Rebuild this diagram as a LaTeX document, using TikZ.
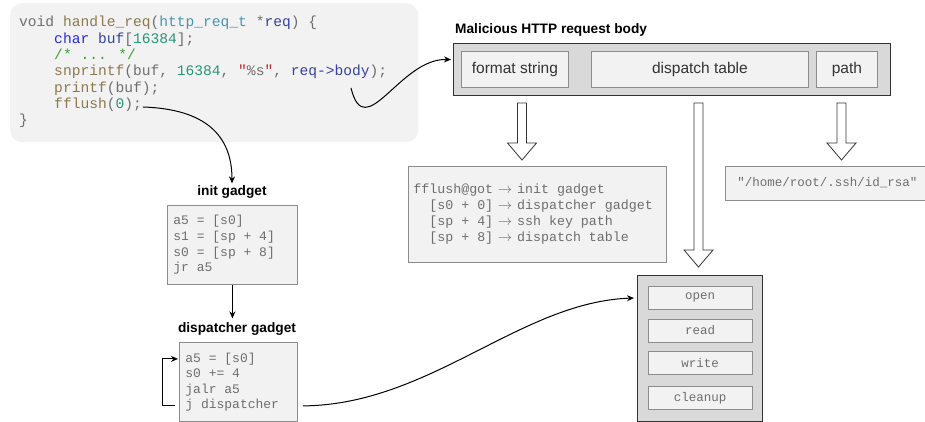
\documentclass[tikz,border=0pt]{standalone}
\usepackage{fontspec}
\setmainfont{Liberation Sans}
\newfontfamily\codefont{Liberation Mono}
\usetikzlibrary{calc,arrows.meta}

\definecolor{paper}{RGB}{242,242,242}
\definecolor{midgray}{RGB}{217,217,217}
\definecolor{edgegray}{RGB}{140,140,140}
\definecolor{darkedge}{RGB}{51,51,51}
\definecolor{codegray}{RGB}{110,110,110}
\definecolor{fnbrown}{RGB}{140,120,80}
\definecolor{typeteal}{RGB}{70,150,175}
\definecolor{varblue}{RGB}{55,65,160}
\definecolor{kwblue}{RGB}{40,40,230}
\definecolor{numgreen}{RGB}{40,150,120}
\definecolor{cmtgreen}{RGB}{60,160,60}
\definecolor{strred}{RGB}{190,40,40}

\newcommand{\monosize}[2]{\codefont\fontsize{#1}{#2}\selectfont\spaceskip=0.6em\relax}
\newcommand{\mapsarrow}{\makebox[0.6em][c]{$\rightarrow$}}
\newcommand{\hollowdown}[2]{%
    \path[hollow] let \p1=(#1), \p2=(#2) in
        (\x1-4.5pt,\y1) -- (\x1+4.5pt,\y1) -- (\x1+4.5pt,\y2+17pt) -- (\x1+14.5pt,\y2+17pt)
        -- (\x1,\y2) -- (\x1-14.5pt,\y2+17pt) -- (\x1-4.5pt,\y2+17pt) -- cycle;}

\begin{document}
\begin{tikzpicture}[x=1pt,y=-1pt]
                        \tikzstyle{codeline}=[anchor=base west, inner sep=0pt, text=codegray, font=\monosize{14.6}{16}]
                        \tikzstyle{heading}=[inner sep=0pt, font=\bfseries\fontsize{13.7}{16}\selectfont]
                        \tikzstyle{outerbox}=[draw=darkedge, fill=midgray, line width=1.2pt, anchor=north west]
                        \tikzstyle{field}=[draw=edgegray, fill=paper, line width=0.8pt, anchor=north west, minimum height=36pt, text=darkedge, font=\fontsize{15.5}{18}\selectfont]
                        \tikzstyle{listing}=[draw=edgegray, fill=paper, line width=0.8pt, align=flush left, text=codegray]
                        \tikzstyle{slot}=[draw=edgegray, fill=paper, line width=0.8pt, minimum width=104pt, minimum height=23pt, text=codegray, font=\monosize{12.5}{14}]
                        \tikzstyle{arr}=[line width=1pt, -{Stealth[length=7pt,width=6pt]}]
                        \tikzstyle{hollow}=[draw=darkedge, fill=white, line width=0.8pt]
                        \useasboundingbox (0,0) rectangle (925,422);

                        \node[fill=paper, rounded corners=12pt, minimum width=408pt, minimum height=139pt, anchor=north west] (codebox) at (10,3) {};
                        \node[codeline] (c1) at (19,27) {void \textcolor{fnbrown}{handle\_req}(\textcolor{typeteal}{http\_req\_t} *\textcolor{varblue}{req}) \{};
                        \node[codeline] (c2) at (19,43.3) {\phantom{xxxx}\textcolor{kwblue}{char} \textcolor{varblue}{buf}[\textcolor{numgreen}{16384}];};
                        \node[codeline] (c3) at (19,59.7) {\phantom{xxxx}\textcolor{cmtgreen}{/* ... */}};
                        \node[codeline] (c4) at (19,76) {\phantom{xxxx}\textcolor{fnbrown}{snprintf}(buf, \textcolor{numgreen}{16384}, \textcolor{strred}{"}\%s\textcolor{strred}{"}, \textcolor{varblue}{req->body});};
                        \node[codeline] (c5) at (19,92.3) {\phantom{xxxx}\textcolor{fnbrown}{printf}(buf);};
                        \node[codeline] (c6) at (19,108.7) {\phantom{xxxx}\textcolor{fnbrown}{fflush}(\textcolor{numgreen}{0});};
                        \node[codeline] (c7) at (19,125) {\}};
                        \coordinate (bodyref) at (351,88);
                        \coordinate (flushref) at (143,107);

                        \node[heading, anchor=base west] (bodytitle) at (455,34) {Malicious HTTP request body};
                        \node[outerbox, minimum width=437pt, minimum height=52pt] (bodybox) at (453,43) {};
                        \node[field, minimum width=107pt] (fmt) at (461,51) {format string};
                        \node[field, minimum width=217pt] (disp) at (591,51) {dispatch table};
                        \node[field, minimum width=61pt] (path) at (816,51) {path};

                        \node[listing, anchor=north west, minimum width=258pt, minimum height=96pt, text width=248pt, inner xsep=5pt,
                            font=\monosize{13.3}{16}] (tbl) at (408,166)
                            {fflush@got \mapsarrow{} init gadget\\
                             \phantom{xx}[s0 + 0] \mapsarrow{} dispatcher gadget\\
                             \phantom{xx}[sp + 4] \mapsarrow{} ssh key path\\
                             \phantom{xx}[sp + 8] \mapsarrow{} dispatch table};
                        \node[listing, anchor=west, minimum height=34pt, minimum width=214pt, text width=190pt, inner xsep=12pt,
                            font=\monosize{12.5}{14}] (keypath) at (725,183) {"/home/root/.ssh/id\_rsa"};

                        \node[outerbox, minimum width=125pt, minimum height=146pt] (calls) at (637,275) {};
                        \node[slot] (copen) at (700,297.5) {open};
                        \node[slot] (cread) at (700,330.5) {read};
                        \node[slot] (cwrite) at (700,363) {write};
                        \node[slot] (cclean) at (700,398) {cleanup};

                        \node[heading] (inittitle) at (232,192) {init gadget};
                        \node[listing, anchor=north west, minimum width=130pt, minimum height=79pt, text width=118pt, inner xsep=6pt,
                            font=\monosize{13}{15.7}] (initbox) at (167,205)
                            {a5 = [s0]\\ s1 = [sp + 4]\\ s0 = [sp + 8]\\ jr a5};
                        \node[heading] (disptitle) at (237,329) {dispatcher gadget};
                        \node[listing, anchor=north west, minimum width=118pt, minimum height=79pt, text width=106pt, inner xsep=6pt,
                            font=\monosize{13}{15.5}] (dispbox) at (179,342)
                            {a5 = [s0]\\ s0 += 4\\ jalr a5\\ j dispatcher};

                        \coordinate (fmtdown) at (522,103);
                        \coordinate (fmttip) at (522,160);
                        \coordinate (dispdown) at (698.5,103);
                        \coordinate (disptip) at (698.5,267);
                        \coordinate (pathdown) at (841.5,103);
                        \coordinate (pathtip) at (841.5,160);
                        \hollowdown{fmtdown}{fmttip}
                        \hollowdown{dispdown}{disptip}
                        \hollowdown{pathdown}{pathtip}

                        \draw[arr] (bodyref) .. controls (365,145) and (400,58) .. ([xshift=-2pt,yshift=10pt]bodybox.west);
                        \draw[arr] (flushref) .. controls (205,109) and (232,135) .. ([yshift=2pt]inittitle.north);
                        \draw[arr] (initbox.south) -- ([yshift=4pt]initbox.south |- disptitle.north);
                        \draw[arr] ($(dispbox.west)+(-4,24)$) -| ($(dispbox.west)+(-17,-23)$) -- ($(dispbox.west)+(-1,-23)$);
                        \draw[arr] ($(dispbox.east)+(5,24)$) .. controls (430,405) and (520,302) .. ($(calls.north west)+(-3,23)$);
                    \end{tikzpicture}
\end{document}
